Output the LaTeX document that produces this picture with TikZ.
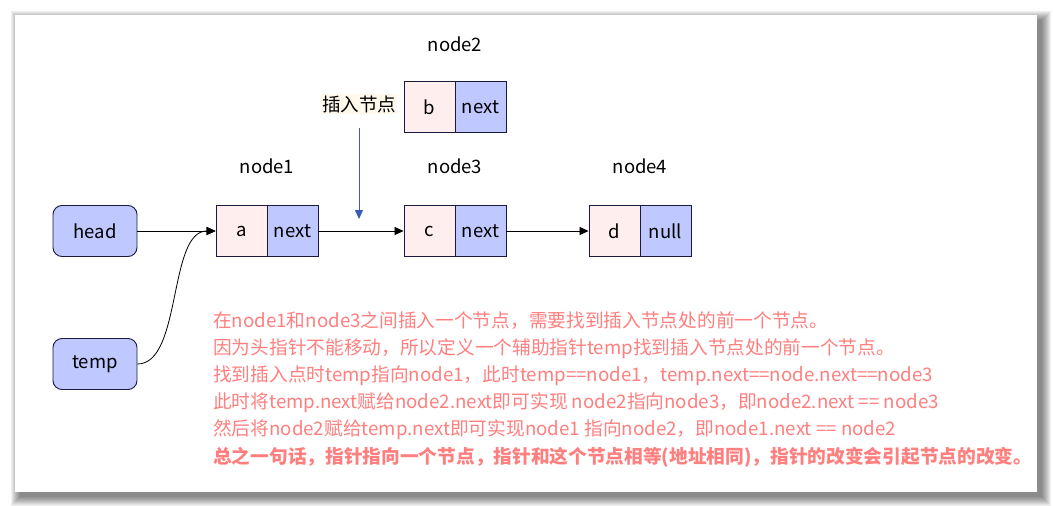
\documentclass[tikz,border=0pt]{standalone}
\usepackage{fontspec}
\setmainfont{Noto Sans CJK SC}
\usetikzlibrary{arrows.meta}
\definecolor{cellpink}{HTML}{FFEEEE}
\definecolor{cellblue}{HTML}{BFC8FF}
\definecolor{edgeblue}{HTML}{1A1A40}
\definecolor{notered}{HTML}{FF7F7F}
\definecolor{insblue}{HTML}{3A5BB8}
\definecolor{tagbg}{HTML}{FFF9EC}
\tikzset{
  cell/.style={draw=edgeblue, line width=0.9pt, minimum width=51pt, minimum height=51pt, inner sep=0pt, font=\fontsize{18.5}{21}\selectfont},
  valcell/.style={cell, fill=cellpink},
  ptrcell/.style={cell, fill=cellblue},
  ptrbox/.style={draw=edgeblue, line width=0.9pt, fill=cellblue, rounded corners=9pt, minimum width=84pt, minimum height=51pt, font=\fontsize{18.5}{21}\selectfont},
  lbl/.style={font=\fontsize{18.5}{21}\selectfont},
  link/.style={line width=0.8pt, -{Triangle[length=9pt,width=8pt]}},
  note/.style={anchor=base west, text=notered, inner sep=0pt, font=\fontsize{18.7}{22}\selectfont}
}
\begin{document}
\begin{tikzpicture}[x=1pt,y=-1pt]
\useasboundingbox (0,0) rectangle (1053,506);
% panel shadow
\foreach \r in {9,8,...,0}{
  \fill[black,opacity=0.06] ({15+5-\r},{15+5-\r}) rectangle ({1037+5+\r},{492+5+\r});
}
\fill[white] (15,15) rectangle (1037,492);

% head / temp
\node[ptrbox] (head) at (95,231) {head};
\node[ptrbox] (temp) at (95,364) {temp};

% node1
\node[valcell] (a) at (241.5,231) {a};
\node[ptrcell] (an) at (292.5,231) {next};
\node[lbl] (l1) at (267,166) {node1};
% node3
\node[valcell] (c) at (429.5,231) {c};
\node[ptrcell] (cn) at (480.5,231) {next};
\node[lbl] (l3) at (455,166) {node3};
% node2
\node[valcell] (b) at (429.5,107) {b};
\node[ptrcell] (bn) at (480.5,107) {next};
\node[lbl] (l2) at (455,44) {node2};
% node4
\node[valcell] (d) at (614.5,231) {d};
\node[ptrcell] (dn) at (665.5,231) {null};
\node[lbl] (l4) at (640,166) {node4};

% insert tag
\node[fill=tagbg, inner sep=1pt, font=\fontsize{18.5}{21}\selectfont] (tag) at (359,104) {插入节点};
\coordinate (insS) at (359,128);
\coordinate (insE) at (359,219);
\draw[insblue, line width=0.8pt, -{Triangle[length=9pt,width=8pt]}] (insS) -- (insE);

% links
\draw[link] (head.east) -- (a.west);
\draw[link] (an.east) -- (c.west);
\draw[link] (cn.east) -- (d.west);
\draw[link] (temp.east) .. controls (182,364) and (168,231) .. (a.west);

% notes
\node[note] (n1) at (213,327) {在node1和node3之间插入一个节点，需要找到插入节点处的前一个节点。};
\node[note] (n2) at (213,354) {因为头指针不能移动，所以定义一个辅助指针temp找到插入节点处的前一个节点。};
\node[note] (n3) at (213,381) {找到插入点时temp指向node1，此时temp==node1，temp.next==node.next==node3};
\node[note] (n4) at (213,408) {此时将temp.next赋给node2.next即可实现 node2指向node3，即node2.next == node3};
\node[note] (n5) at (213,435) {然后将node2赋给temp.next即可实现node1 指向node2，即node1.next == node2};
\node[note, font=\fontsize{18.7}{22}\selectfont\bfseries] (n6) at (213,463) {总之一句话，指针指向一个节点，指针和这个节点相等(地址相同)，指针的改变会引起节点的改变。};
\end{tikzpicture}
\end{document}
